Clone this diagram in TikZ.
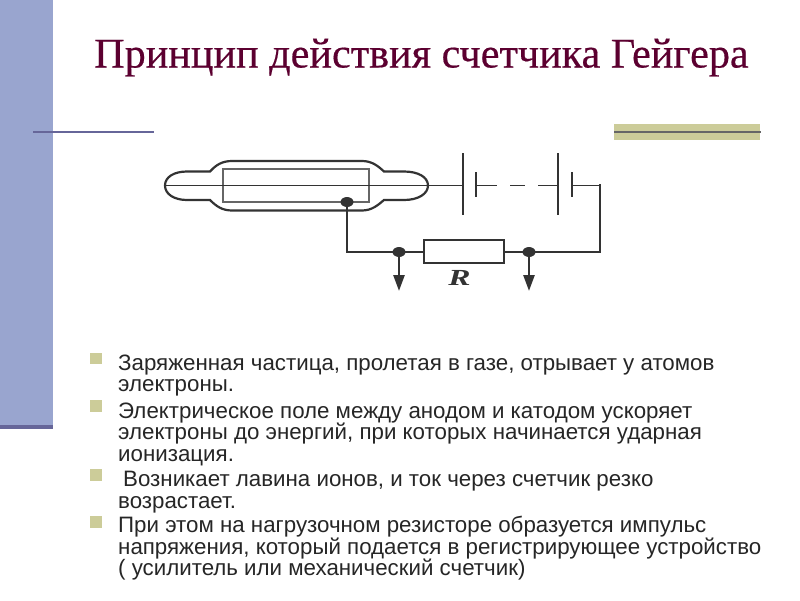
\documentclass[tikz,border=0pt]{standalone}
\usepackage{fontspec}
\setmainfont{Liberation Sans}
\newfontfamily\titlefont[FakeBold=0.4]{Liberation Serif}
\newfontfamily\labelfont{Liberation Serif}
\usetikzlibrary{arrows.meta,shapes.geometric}
\definecolor{sidebar}{HTML}{99A5CF}
\definecolor{sideband}{HTML}{666699}
\definecolor{olivebar}{HTML}{CCCC99}
\definecolor{titlecol}{HTML}{5C0030}
\definecolor{wirecol}{HTML}{333333}
\tikzset{
  x=1pt,y=-1pt,
  wire/.style={draw=wirecol,line width=2.2pt},
  thinwire/.style={draw=wirecol,line width=1.5pt},
  plate/.style={draw=wirecol,line width=2.6pt},
  junction/.style={ellipse,fill=wirecol,draw=none,minimum width=13pt,minimum height=10pt,inner sep=0pt},
  tap/.style={draw=wirecol,line width=2.6pt,-{Triangle[length=16pt,width=11pt]}},
  para/.style={anchor=north west,align=left,inner sep=0pt,font=\fontsize{22.3}{21.6}\selectfont,text=black!85},
  bulletmark/.style={fill=olivebar,draw=none,minimum size=11.5pt,inner sep=0pt},
}
\begin{document}
\begin{tikzpicture}
\useasboundingbox (0,0) rectangle (800,600);
\fill[white] (0,0) rectangle (800,600);
% decoration
\fill[sidebar] (0,0) rectangle (53,425);
\fill[sideband] (0,425) rectangle (53,429);
\draw[sideband,line width=2.2pt] (33,132) -- (154,132);
\fill[olivebar] (614,124) rectangle (760,140);
\draw[black!60,line width=2.2pt] (614,132) -- (761,132);
% title
\node[anchor=base west,inner sep=0pt,text=titlecol,font=\titlefont\fontsize{42.2}{46}\selectfont] (title) at (94,67.5) {Принцип действия счетчика Гейгера};
% tube
\draw[wire] (210,171.5) .. controls (216,165) and (222,161) .. (232,161) -- (362,161)
  .. controls (372,161) and (378,166) .. (384,171.5) -- (404,171.5)
  .. controls (418,171.5) and (428,177) .. (428,185.5)
  .. controls (428,194) and (418,200) .. (404,200) -- (384,200)
  .. controls (378,205) and (372,210.5) .. (362,210.5) -- (232,210.5)
  .. controls (222,210.5) and (216,206) .. (210,200) -- (187,200)
  .. controls (174,200) and (165,194) .. (165,185.5)
  .. controls (165,177) and (174,171.5) .. (187,171.5) -- cycle;
\draw[black!60,line width=1.3pt] (223,169) rectangle (369,202);
% circuit nodes
\node[junction] (anode) at (347,202) {};
\node[junction] (jl) at (399,252) {};
\node[junction] (jr) at (529,252) {};
\node[draw=wirecol,line width=2.1pt,fill=white,minimum width=80pt,minimum height=22.5pt,inner sep=0pt] (res) at (464,251.5) {};
\node[font=\labelfont\bfseries\itshape\fontsize{23}{23}\selectfont,text=wirecol] (rlabel) at (459.5,278) {\scalebox{1.45}[1]{R}};
\coordinate (tubeL) at (165,185.5);
\coordinate (b1) at (463,185.5);
\coordinate (b1t) at (463,153);
\coordinate (b1b) at (463,215);
\coordinate (s1) at (476,185.5);
\coordinate (s1t) at (476,172);
\coordinate (s1b) at (476,197);
\coordinate (d1) at (497,185.5);
\coordinate (d2) at (510,185.5);
\coordinate (d3) at (525,185.5);
\coordinate (d4) at (538,185.5);
\coordinate (b2) at (558,185.5);
\coordinate (b2t) at (558,153);
\coordinate (b2b) at (558,215);
\coordinate (s2) at (572,185.5);
\coordinate (s2t) at (572,172);
\coordinate (s2b) at (572,197);
\coordinate (corner) at (600,185.5);
\coordinate (corner2) at (600,252);
\coordinate (elbow) at (347,252);
\coordinate (tipl) at (399,291);
\coordinate (tipr) at (529,291);
\draw[thinwire] (tubeL) -- (b1);
\draw[plate] (b1t) -- (b1b);
\draw[plate] (s1t) -- (s1b);
\draw[thinwire] (s1) -- (d1);
\draw[thinwire] (d2) -- (d3);
\draw[thinwire] (d4) -- (b2);
\draw[plate] (b2t) -- (b2b);
\draw[plate] (s2t) -- (s2b);
\draw[thinwire] (s2) -- (corner);
\draw[wire,line cap=rect] (corner) -- (corner2);
\draw[wire] (corner2) -- (jr.center) -- (jr.center -| res.east);
\draw[wire] (jl.center -| res.west) -- (jl.center) -- (elbow);
\draw[wire,line cap=rect] (anode.center) -- (elbow);
\draw[tap] (jl.center) -- (tipl);
\draw[tap] (jr.center) -- (tipr);
% bullets
\node[bulletmark] (m1) at (96,358.5) {};
\node[bulletmark] (m2) at (96,406) {};
\node[bulletmark] (m3) at (96,475) {};
\node[bulletmark] (m4) at (96,522) {};
% text
\node[para] (p1) at (118,354.5) {Заряженная частица, пролетая в газе, отрывает у атомов\\электроны.};
\node[para] (p2) at (118,402.5) {Электрическое поле между анодом и катодом ускоряет\\электроны до энергий, при которых начинается ударная\\ионизация.};
\node[para] (p3) at (118,471) {\hspace*{5pt}Возникает лавина ионов, и ток через счетчик резко\\возрастает.};
\node[para] (p4) at (118,516) {При этом на нагрузочном резисторе образуется импульс\\напряжения, который подается в регистрирующее устройство\\( усилитель или механический счетчик)};
\end{tikzpicture}
\end{document}
